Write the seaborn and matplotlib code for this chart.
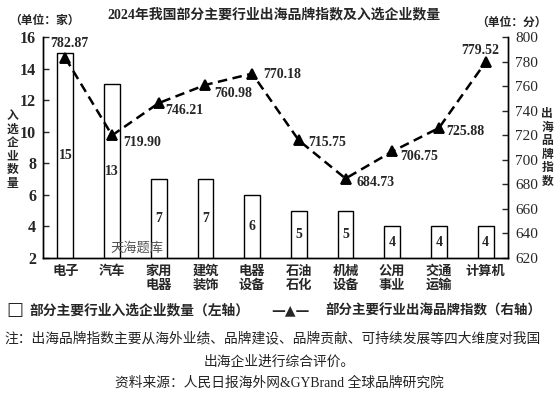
import matplotlib
matplotlib.use("Agg")
import matplotlib.pyplot as plt
import seaborn as sns
import numpy as np
import pandas as pd

# data
industries = ["电子", "汽车", "家用\n电器", "建筑\n装饰", "电器\n设备",
              "石油\n石化", "机械\n设备", "公用\n事业", "交通\n运输", "计算机"]
firm_counts = [15, 13, 7, 7, 6, 5, 5, 4, 4, 4]
brand_index = [782.87, 719.90, 746.21, 760.98, 770.18,
               715.75, 684.73, 706.75, 725.88, 779.52]
# where each index label sits relative to its marker (pixels)
label_offsets = [(4, 15), (30, -7), (26, -7), (28, -9), (30, -1),
                 (28, -2), (30, -4), (27, -5), (26, -4), (-5, 12)]

sns.set_style("white")
CJK = ["Noto Sans CJK SC", "DejaVu Sans"]
NUM = ["Liberation Serif", "Noto Sans CJK SC"]
plt.rcParams["font.family"] = CJK

df = pd.DataFrame({"industry": industries, "count": firm_counts, "index": brand_index})

fig = plt.figure(figsize=(5.59, 3.93), dpi=100)
ax = fig.add_axes([0.0769, 0.3435, 0.8319, 0.5624])

sns.barplot(data=df, x="industry", y="count", ax=ax, color="white",
            edgecolor="black", linewidth=1.0, width=0.34, saturation=1)
ax.set_ylim(2, 16)
ax.set_yticks(range(2, 17, 2))
ax.set_xlabel("")
ax.set_ylabel("")
for i, v in enumerate(firm_counts):
    ax.text(i, (2 + v) / 2, str(v), ha="center", va="center",
            fontsize=10, fontweight="bold", family=NUM)

ax2 = ax.twinx()
sns.pointplot(data=df, x="industry", y="index", ax=ax2, color="black",
              markers="^", errorbar=None, linestyle=(0, (3.8, 2.2)),
              linewidth=1.8, markersize=7.5)
ax2.set_ylim(620, 800)
ax2.set_yticks(range(620, 801, 20))
ax2.set_ylabel("")
ax2.set_xlabel("")
ax.set_xlim(-0.48, 9.48)
ax2.set_xlim(-0.48, 9.48)

for i, (v, off) in enumerate(zip(brand_index, label_offsets)):
    ax2.annotate(f"{v:.2f}", (i, v), xytext=off, textcoords="offset pixels",
                 ha="center", va="center", fontsize=10, fontweight="bold",
                 family=NUM)

for a in (ax, ax2):
    a.spines["top"].set_visible(False)
    for s in ("left", "right", "bottom"):
        a.spines[s].set_linewidth(1.0)
        a.spines[s].set_color("black")

ax.tick_params(axis="y", direction="in", length=4, width=1, pad=5)
ax2.tick_params(axis="y", direction="in", length=4, width=1, pad=5)
ax.tick_params(axis="x", length=0, pad=4)
for t in ax.get_yticklabels():
    t.set_family(NUM)
    t.set_fontsize(11.5)
    t.set_fontweight("bold")
for t in ax2.get_yticklabels():
    t.set_family(NUM)
    t.set_fontsize(11)
ax.set_xticks(range(len(industries)))
ax.set_xticklabels(industries, fontsize=9.5, fontweight="bold", linespacing=1.0)

# title, units, axis names
fig.text(0.49, 0.963, "2024年我国部分主要行业出海品牌指数及入选企业数量",
         ha="center", va="center", fontsize=10, fontweight="bold", family=NUM)
fig.text(0.079, 0.948, "（单位：家）", ha="center", va="center",
         fontsize=8.5, fontweight="bold")
fig.text(0.915, 0.943, "（单位：分）", ha="center", va="center",
         fontsize=8.5, fontweight="bold")
fig.text(0.022, 0.62, "\n".join("入选企业数量"), ha="center", va="center",
         fontsize=8.5, fontweight="bold", linespacing=1.05)
fig.text(0.979, 0.625, "\n".join("出海品牌指数"), ha="center", va="center",
         fontsize=8.5, fontweight="bold", linespacing=1.05)

# watermark
fig.text(0.245, 0.368, "天海题库", ha="center", va="center",
         fontsize=9.5, color="#555555")

# legend drawn by hand
fig.text(0.012, 0.211, "□", ha="left", va="center", fontsize=13,
         family=["DejaVu Sans"])
fig.text(0.052, 0.211, "部分主要行业入选企业数量（左轴）", ha="left", va="center",
         fontsize=9.9, fontweight="bold")
fig.text(0.486, 0.211, "—▲—", ha="left", va="center", fontsize=10,
         fontweight="bold", family=["DejaVu Sans"])
fig.text(0.583, 0.211, "部分主要行业出海品牌指数（右轴）", ha="left", va="center",
         fontsize=9.7, fontweight="bold")

# notes
fig.text(0.008, 0.14, "注：出海品牌指数主要从海外业绩、品牌建设、品牌贡献、可持续发展等四大维度对我国",
         ha="left", va="center", fontsize=9.9, color="#222222")
fig.text(0.5, 0.079, "出海企业进行综合评价。", ha="center", va="center",
         fontsize=9.9, color="#222222")
fig.text(0.5, 0.025, "资料来源：人民日报海外网&GYBrand 全球品牌研究院", ha="center",
         va="center", fontsize=9.9, color="#222222", family=NUM)

fig.savefig("out.png", dpi=100)
